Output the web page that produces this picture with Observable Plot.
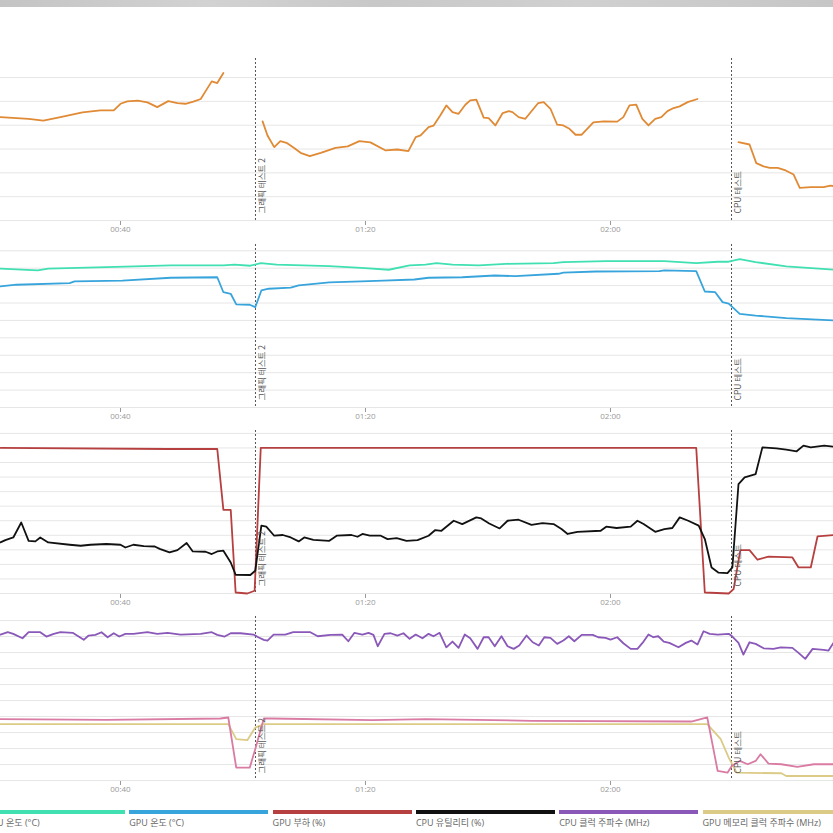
<!DOCTYPE html>
<html>
<head>
<meta charset="utf-8">
<script src="https://cdn.jsdelivr.net/npm/d3@7"></script>
<script src="https://cdn.jsdelivr.net/npm/@observablehq/plot@0.6"></script>
<style>
  html, body { margin: 0; padding: 0; background: #fff; }
  #root { position: relative; width: 833px; height: 833px; overflow: hidden; font-family: "Open Sans", "Noto Sans CJK KR", sans-serif; }
  .panel { position: absolute; left: 0; }
  #topbar { position: absolute; left: 0; top: 0; width: 833px; height: 7px;
    background: linear-gradient(90deg, #c4c4c4 0%, #d2d2d2 25%, #c8c8c8 45%, #d0d0d0 70%, #c6c6c6 100%); }
  .lg-sw { position: absolute; top: 810px; height: 4px; width: 139px; }
  .lg-tx { position: absolute; top: 816px; font-size: 9px; color: #666; white-space: nowrap; font-family: "Open Sans", "Noto Sans CJK KR", sans-serif; }
</style>
</head>
<body>
<div id="root"><div id="topbar"></div></div>
<script>
// ---- time axis (minutes since start) ----
const xDomain = [20.41, 156.41];
const xTicks = [40, 80, 120];
const markerTimes = [62.04, 139.76];
const markerLabels = ["그래픽 테스트 2", "CPU 테스트"];

// ---- panel 1: orange series (gaps = null) ----
const orangeT = [20.4,25.0,27.4,30.2,33.8,36.7,38.9,40.0,41.1,42.8,44.4,46.0,47.8,49.3,50.6,51.9,53.1,53.9,54.9,55.8,56.8,
  60.0,
  63.2,64.0,65.1,66.1,67.1,68.3,69.4,70.9,72.7,75.1,77.1,79.0,80.8,83.3,85.2,87.0,88.2,89.0,90.3,91.1,92.2,93.2,94.2,95.2,96.3,97.1,98.1,99.3,100.1,101.2,102.4,103.4,104.0,105.0,106.1,107.3,108.2,109.1,110.2,111.3,112.3,113.3,114.3,115.3,116.2,117.2,118.9,121.1,122.1,123.1,124.2,125.2,126.2,127.3,128.3,129.3,130.3,131.3,132.6,134.2,
  137.0,
  140.9,142.7,143.8,145.0,146.0,147.3,148.6,149.9,150.9,152.7,154.8,155.9,156.9];
const orangeV = [43.4,42.7,41.9,43.4,45.4,46.2,46.2,49.0,50.0,50.3,49.6,47.6,50.1,49.3,49.0,49.9,51.0,54.3,58.4,57.7,61.9,
  null,
  41.6,35.7,30.8,33.3,32.6,30.5,28.4,27.0,28.4,30.5,31.1,33.3,32.8,29.4,29.8,29.1,35.0,35.7,39.2,39.8,44.1,48.3,45.5,44.8,48.6,50.4,50.7,43.2,43.0,39.9,45.1,45.9,45.5,43.4,42.7,46.5,49.3,49.7,46.9,40.2,39.9,38.5,36.0,36.0,38.5,41.2,41.6,41.5,43.4,48.3,48.6,42.7,39.9,42.7,43.4,45.9,47.2,47.9,49.7,51.0,
  null,
  32.9,31.9,24.1,22.7,22.1,22.1,21.0,19.3,13.7,14.0,14.0,14.6,14.3];

// ---- panel 2: temperatures (°C) ----
const cpuTempT = [20.4,26.5,28.2,37.7,48.2,56.8,58.6,61.2,62.9,65.5,74.1,79.3,83.8,87.2,89.8,91.6,94.2,98.5,102.9,110.7,112.3,119.3,128.8,134.0,137.5,139.3,141.1,143.7,148.7,156.4];
const cpuTempV = [79.7,78.7,79.7,80.6,81.6,81.6,82.0,81.4,82.9,82.0,81.2,80.2,79.1,81.6,82.0,82.9,82.1,81.6,82.5,82.9,83.5,84.0,84.0,82.9,83.7,83.7,85.2,83.5,81.0,79.1];
const gpuTempT = [20.4,23.0,31.7,32.5,40.3,48.2,55.8,56.8,58.0,58.9,61.1,62.0,63.0,64.2,67.8,69.1,74.1,79.3,82.9,88.0,90.3,95.8,101.1,104.5,111.5,112.3,117.6,128.0,128.8,134.0,135.4,137.1,138.3,139.3,141.1,143.7,148.7,156.4];
const gpuTempV = [69.5,70.5,71.4,72.4,72.9,74.5,74.8,66.2,65.3,59.2,59.0,57.6,67.2,68.2,68.8,70.1,71.8,72.4,72.9,73.5,74.5,74.8,75.8,75.4,76.8,77.4,78.1,78.3,78.7,78.3,66.6,66.2,60.5,59.6,53.8,52.8,51.3,50.0];

// ---- panel 3: loads (%) ----
const gpuLoadT = [20.4,47.7,55.8,56.8,58.0,58.8,60.7,61.9,62.9,134.0,135.4,139.3,140.1,141.2,142.7,144.0,145.8,149.7,150.7,152.7,153.8,156.4];
const gpuLoadV = [100,99.3,99.3,57.4,57.4,0.7,0,1.9,100,100,0.7,0,3.0,29.8,29.8,23.2,25.4,24.8,17.9,17.9,39.2,40.2];
const cpuUtilT = [20.4,21.2,22.5,23.8,25.0,26.1,26.9,28.2,31.7,33.5,35.1,37.7,40.0,40.8,42.1,43.8,45.6,46.4,48.0,49.3,50.8,51.8,53.9,54.9,55.8,56.8,58.0,58.8,61.2,62.0,63.0,63.8,65.1,66.5,67.8,69.1,70.0,71.5,74.1,75.3,77.7,78.7,79.5,80.7,82.5,83.6,85.1,86.7,88.5,90.3,91.4,92.4,94.4,95.8,98.1,98.9,100.2,101.9,103.2,105.0,107.1,108.9,110.7,112.0,113.0,114.6,118.4,119.3,121.0,123.3,124.4,125.4,127.3,128.8,130.1,131.3,132.7,134.4,135.4,136.5,137.6,139.1,139.9,140.9,141.9,143.7,144.8,147.1,148.7,150.4,151.5,152.7,154.9,156.4];
const cpuUtilV = [35.1,36.7,38.5,48.8,36.2,35.8,38.5,35.1,33.5,32.8,33.5,34.0,33.5,31.6,33.5,32.6,32.3,30.7,28.2,29.8,34.7,28.9,28.7,27.1,28.9,29.4,21.3,12.9,12.7,15.6,46.6,45.9,39.7,40.2,38.5,35.8,38.5,36.9,36.2,39.7,40.2,39.0,40.9,39.7,39.7,37.4,38.1,36.2,36.7,39.7,43.6,43.1,50.0,47.7,52.3,51.6,48.1,44.7,50.0,50.7,47.2,48.4,47.7,44.3,40.9,42.4,43.1,45.9,45.0,45.9,50.0,47.7,42.4,44.3,45.0,52.3,50.0,46.6,37.4,17.9,14.4,14.0,17.9,75.2,79.8,82.1,100.4,99.7,98.8,97.7,101.6,100.4,101.6,100.9];

// ---- panel 4: clocks (MHz) ----
const cpuClockT = [20.4,21.6,22.5,24.0,25.0,26.9,27.9,29.1,30.2,32.2,33.1,34.0,34.8,35.9,36.9,37.9,38.9,39.8,40.8,42.1,44.4,46.0,47.7,49.8,53.1,54.9,55.8,57.0,58.0,59.6,61.7,62.5,63.4,64.0,65.0,66.9,68.2,71.0,72.2,74.3,76.2,77.2,78.2,79.5,80.5,81.3,82.0,83.1,84.1,85.2,86.2,87.2,88.2,89.3,90.3,91.1,92.1,93.2,94.2,95.2,96.2,97.1,98.3,99.3,100.1,101.1,102.2,103.2,104.2,105.1,106.3,107.3,108.3,109.2,110.2,111.3,112.3,113.2,114.1,115.3,117.1,118.0,119.2,120.0,121.1,122.1,123.3,124.4,125.4,126.2,127.0,127.8,128.7,129.6,131.1,132.3,133.2,134.2,135.2,136.2,137.5,139.3,139.9,140.9,141.7,142.7,143.7,145.0,146.6,147.8,149.7,150.7,151.8,153.0,154.8,155.6,156.4];
const cpuClockV = [4561,4634,4583,4445,4634,4634,4499,4583,4634,4615,4508,4395,4530,4552,4634,4477,4602,4499,4583,4583,4634,4583,4615,4561,4583,4634,4552,4499,4602,4602,4561,4477,4395,4373,4561,4561,4634,4634,4508,4552,4561,4351,4615,4561,4615,4552,4195,4583,4602,4530,4602,4427,4561,4445,4583,4508,4615,4163,4342,4145,4561,4445,4113,4477,4477,4195,4508,4195,4113,4217,4530,4320,4217,4477,4458,4270,4373,4508,4351,4552,4552,4477,4458,4405,4477,4289,4113,4113,4342,4561,4477,4508,4342,4301,4163,4301,4373,4248,4665,4583,4561,4583,4499,4301,3934,4320,4270,4132,4113,4163,4145,3988,3800,4113,4082,4060,4301];
const gpuClockT = [20.4,37.7,56.3,57.6,58.9,61.1,62.0,63.4,64.7,81.1,89.8,107.1,133.2,135.8,137.5,139.1,139.8,141.1,142.4,143.7,144.5,145.8,147.9,150.5,153.2,156.4];
const gpuClockV = [1919,1897,1937,1969,401,401,978,1937,1937,1887,1919,1865,1843,1969,298,245,455,611,508,611,821,527,508,423,508,508];
const gpuMemT = [20.4,57.6,58.9,60.7,62.0,63.4,135.8,138.0,139.3,140.6,147.9,148.7,156.4];
const gpuMemV = [1762,1762,1292,1260,1655,1762,1762,1292,715,245,226,141,141];

// ---- legend ----
const legendLabels = ["CPU 온도 (°C)", "GPU 온도 (°C)", "GPU 부하 (%)", "CPU 유틸리티 (%)", "CPU 클럭 주파수 (MHz)", "GPU 메모리 클럭 주파수 (MHz)"];
const legendColors = ["#40e0b2", "#38a4dc", "#b5403f", "#111111", "#8a58b8", "#dccb86"];

const C = {orange: "#e08a35", teal: "#40e0b2", blue: "#38a4dc", red: "#b5403f", black: "#111111", purple: "#8a58b8", pink: "#d97ba3", tan: "#dccb86"};

function rows(T, V) { return T.map((t, i) => ({t, v: V[i]})); }
function fmt(m) { const h = Math.floor(m / 60), mm = Math.round(m % 60); return String(h).padStart(2, "0") + ":" + String(mm).padStart(2, "0"); }
const markers = markerTimes.map((t, i) => ({t, label: markerLabels[i]}));

function panel({top, height, yDomain, grid, series}) {
  const marks = [
    Plot.ruleY(grid, {stroke: "#e6e6e6", strokeWidth: 1}),
    Plot.ruleX(markers, {x: "t", stroke: "#555", strokeWidth: 1, strokeDasharray: "2,2"}),
    ...series.map(s => Plot.line(rows(s.T, s.V), {x: "t", y: "v", stroke: s.color, strokeWidth: 1.8, curve: "linear"})),
    Plot.text(markers, {x: "t", y: () => 0, text: "label", rotate: -90, textAnchor: "start", dx: 7, dy: -7, fill: "#555", fontSize: 8.5, fontFamily: "'Noto Sans CJK KR', 'Open Sans', sans-serif"})
  ];
  const p = Plot.plot({
    width: 833, height, marginLeft: 0, marginRight: 0, marginTop: 8, marginBottom: height - 8 - (height - 28),
    x: {domain: xDomain, ticks: xTicks, tickFormat: fmt, tickSize: 5, tickPadding: 1, label: null},
    y: {domain: yDomain, axis: null},
    style: {color: "#999", fontSize: "8px", fontFamily: "'Open Sans', sans-serif", background: "transparent", overflow: "visible"},
    marks
  });
  p.classList.add("panel");
  p.style.top = top + "px";
  document.getElementById("root").appendChild(p);
}

panel({top: 50, height: 190, yDomain: [0, 68], grid: d3.range(0, 61, 10),
  series: [{T: orangeT, V: orangeV, color: C.orange}]});
panel({top: 236, height: 191, yDomain: [0, 93.6], grid: d3.range(0, 91, 10),
  series: [{T: cpuTempT, V: cpuTempV, color: C.teal}, {T: gpuTempT, V: gpuTempV, color: C.blue}]});
panel({top: 422, height: 191, yDomain: [0, 112], grid: d3.range(0, 111, 10),
  series: [{T: gpuLoadT, V: gpuLoadV, color: C.red}, {T: cpuUtilT, V: cpuUtilV, color: C.black}]});
panel({top: 608, height: 192, yDomain: [0, 5125], grid: d3.range(0, 5001, 500),
  series: [{T: gpuMemT, V: gpuMemV, color: C.tan}, {T: gpuClockT, V: gpuClockV, color: C.pink}, {T: cpuClockT, V: cpuClockV, color: C.purple}]});

const root = document.getElementById("root");
legendLabels.forEach((lab, i) => {
  const x = -14 + i * 143.3;
  const sw = document.createElement("div");
  sw.className = "lg-sw"; sw.style.left = x + "px"; sw.style.background = legendColors[i];
  root.appendChild(sw);
  const tx = document.createElement("div");
  tx.className = "lg-tx"; tx.style.left = x + "px"; tx.textContent = lab;
  root.appendChild(tx);
});
</script>
</body>
</html>
